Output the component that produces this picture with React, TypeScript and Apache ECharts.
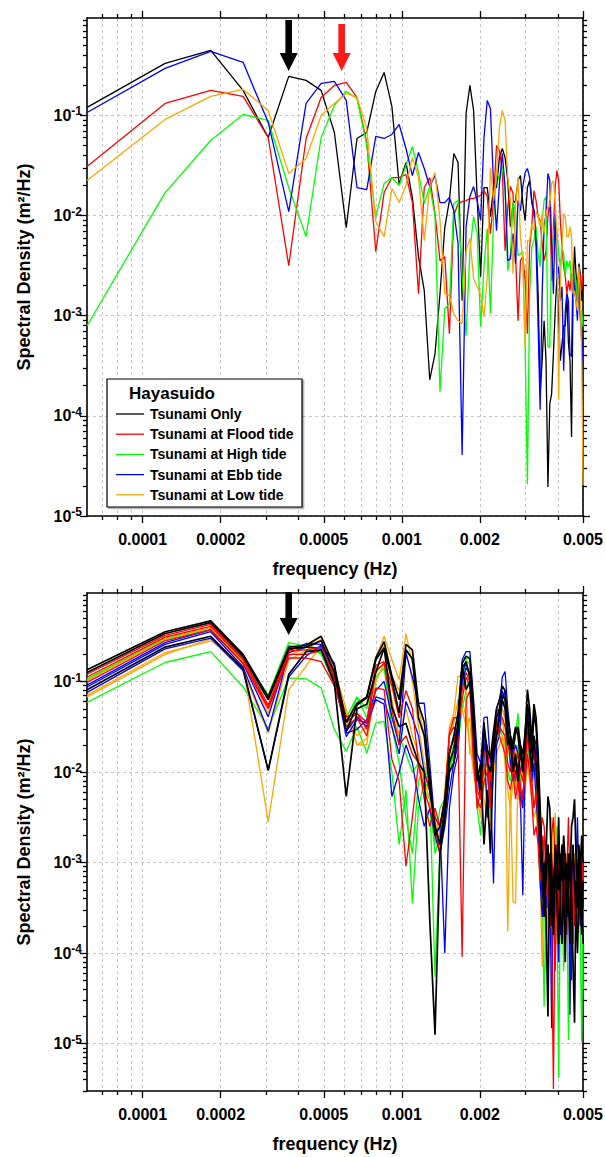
import React, { useEffect, useRef } from "react";
import * as echarts from "echarts";

// frequency grid of the spectra (Hz)
const freqHz = [
  6.104e-5, 1.221e-4, 1.831e-4, 2.441e-4, 3.052e-4, 3.662e-4, 4.272e-4, 4.883e-4, 5.493e-4, 6.104e-4,
  6.714e-4, 7.324e-4, 7.935e-4, 8.545e-4, 9.155e-4, 9.766e-4, 1.0376e-3, 1.0986e-3, 1.1597e-3, 1.2207e-3,
  1.2817e-3, 1.3428e-3, 1.4038e-3, 1.4648e-3, 1.5259e-3, 1.5869e-3, 1.6479e-3, 1.709e-3, 1.77e-3, 1.8311e-3,
  1.8921e-3, 1.9531e-3, 2.0142e-3, 2.0752e-3, 2.1362e-3, 2.1973e-3, 2.2583e-3, 2.3193e-3, 2.3804e-3, 2.4414e-3,
  2.5024e-3, 2.5635e-3, 2.6245e-3, 2.6855e-3, 2.7466e-3, 2.8076e-3, 2.8687e-3, 2.9297e-3, 2.9907e-3, 3.0518e-3,
  3.1128e-3, 3.1738e-3, 3.2349e-3, 3.2959e-3, 3.3569e-3, 3.418e-3, 3.479e-3, 3.54e-3, 3.6011e-3, 3.6621e-3,
  3.7231e-3, 3.7842e-3, 3.8452e-3, 3.9063e-3, 3.9673e-3, 4.0283e-3, 4.0894e-3, 4.1504e-3, 4.2114e-3, 4.2725e-3,
  4.3335e-3, 4.3945e-3, 4.4556e-3, 4.5166e-3, 4.5776e-3, 4.6387e-3, 4.6997e-3, 4.7607e-3, 4.8218e-3, 4.8828e-3,
  4.9438e-3, 5.0049e-3,
];

// ---- upper panel: log10 of spectral density (m^2/Hz) ----
const topOnlyLog10 = [
  -0.92, -0.48, -0.35, -0.75, -1.22, -0.61, -0.65, -0.75, -1.17, -2.12,
  -1.23, -1.17, -0.76, -0.57, -0.91, -1.69, -1.47, -1.82, -2.41, -2.75,
  -3.64, -3.38, -2.78, -2.12, -1.85, -1.38, -1.47, -2.85, -0.98, -0.7,
  -0.95, -1.82, -2.61, -1.72, -1.72, -2.01, -1.72, -1.72, -1.42, -1.33,
  -1.42, -1.65, -2.11, -1.88, -1.85, -1.65, -1.6, -1.88, -2.05, -1.72,
  -1.65, -1.85, -1.95, -2.18, -2.78, -3.78, -3.45, -3.05, -3.45, -4.71,
  -3.88, -3.78, -3.38, -2.95, -2.61, -3.05, -3.45, -3.28, -3.1, -3.1,
  -2.78, -3.28, -3.45, -4.21, -2.78, -2.31, -2.58, -2.78, -2.48, -2.58,
  -2.85, -2.61,
];
const topFloodLog10 = [
  -1.51, -0.88, -0.75, -0.81, -1.22, -2.5, -1.23, -0.82, -0.7, -0.67,
  -0.82, -1.27, -2.36, -1.77, -1.62, -1.62, -1.59, -1.87, -2.78, -1.72,
  -1.62, -1.98, -2.45, -2.41, -3.18, -2.0, -1.88, -1.86, -1.85, -1.83,
  -1.83, -1.81, -1.8, -1.75, -1.81, -2.18, -1.85, -1.3, -1.35, -1.55,
  -2.35, -1.91, -1.71, -1.78, -2.38, -3.05, -2.45, -2.41, -2.65, -3.18,
  -2.31, -2.11, -1.75, -1.85, -2.01, -2.05, -2.28, -2.45, -2.35, -2.01,
  -1.85, -2.65, -2.11, -1.71, -1.55, -1.65, -2.05, -2.31, -2.51, -2.61,
  -2.78, -2.65, -2.75, -2.58, -2.78, -2.58, -2.85, -2.65, -2.61, -2.58,
  -2.75, -2.58,
];
const topHighLog10 = [
  -3.1, -1.77, -1.25, -0.99, -1.05, -1.72, -2.21, -1.22, -0.9, -0.76,
  -0.83, -1.3, -2.01, -1.68, -1.62, -1.7, -1.5, -1.31, -1.57, -1.88,
  -1.71, -2.0, -3.76, -2.93, -2.88, -1.88, -1.85, -2.61, -3.2, -2.36,
  -2.01, -2.18, -3.11, -2.51, -2.13, -2.98, -2.05, -1.55, -1.65, -1.52,
  -1.75, -2.55, -2.38, -1.87, -1.95, -2.4, -2.38, -2.36, -3.31, -4.68,
  -2.78, -2.31, -2.25, -2.11, -2.38, -2.51, -2.05, -1.85, -1.81, -3.31,
  -3.31, -2.31, -2.21, -2.05, -2.15, -2.38, -2.51, -2.31, -2.38, -2.61,
  -2.45, -2.51, -2.45, -2.68, -2.85, -2.58, -2.65, -2.85, -2.78, -3.05,
  -2.95, -3.11,
];
const topEbbLog10 = [
  -0.97, -0.53, -0.36, -0.47, -1.07, -1.96, -0.88, -0.68, -0.66, -0.85,
  -1.72, -1.74, -1.21, -1.23, -1.19, -1.09, -1.33, -1.6, -1.37, -1.53,
  -1.71, -1.6, -1.87, -1.87, -1.82, -1.95, -2.28, -4.39, -2.11, -1.81,
  -1.71, -1.85, -2.05, -1.22, -0.85, -0.93, -1.68, -2.15, -1.68, -1.38,
  -1.71, -2.45, -2.43, -2.18, -2.48, -1.85, -1.95, -1.71, -1.57, -1.53,
  -1.62, -1.88, -1.95, -2.31, -3.11, -3.94, -2.78, -2.11, -1.98, -1.58,
  -1.65, -2.28, -2.78, -1.98, -2.61, -2.51, -2.85, -2.71, -3.55, -2.95,
  -2.78, -2.85, -3.38, -3.41, -2.51, -2.75, -2.85, -3.05, -2.51, -2.98,
  -3.25, -3.5,
];
const topLowLog10 = [
  -1.65, -1.04, -0.81, -0.74, -0.95, -1.58, -1.43, -1.0, -0.88, -0.78,
  -0.82, -1.13, -2.06, -2.21, -1.73, -1.87, -1.7, -1.42, -1.62, -2.25,
  -1.71, -1.57, -2.05, -2.78, -2.8, -2.98, -3.05, -3.08, -2.35, -2.23,
  -2.63, -2.71, -2.78, -3.01, -2.61, -1.52, -1.85, -1.58, -1.12, -0.95,
  -1.05, -1.62, -1.85, -2.58, -1.91, -1.62, -2.21, -2.45, -3.31, -2.25,
  -2.25, -2.08, -2.15, -1.96, -2.01, -2.11, -1.98, -2.18, -1.98, -1.91,
  -1.91, -1.68, -1.65, -1.88, -2.18, -3.84, -2.65, -2.31, -1.98, -2.01,
  -2.21, -2.21, -2.11, -2.21, -2.78, -2.75, -2.85, -2.95, -2.51, -2.78,
  -3.45, -4.69,
];

// ---- lower panel: log10 of spectral density (m^2/Hz), three runs per condition ----
const botOnlyA = [
  -0.87, -0.45, -0.33, -0.7, -1.17, -0.62, -0.6, -0.5, -0.83, -1.45,
  -1.24, -1.17, -0.74, -0.56, -0.94, -1.2, -0.59, -0.65, -1.25, -1.45,
  -2.05, -2.7, -2.6, -2.3, -1.8, -1.6, -1.35, -0.8, -0.72, -0.75,
  -1.3, -2.0, -2.1, -1.5, -1.75, -1.85, -1.55, -1.3, -1.2, -1.05,
  -1.1, -1.4, -1.6, -1.75, -1.55, -1.5, -1.7, -1.8, -1.6, -1.09,
  -1.3, -1.65, -1.25, -1.4, -1.8, -2.4, -2.95, -3.3, -2.9, -2.27,
  -2.4, -3.1, -3.5, -2.8, -3.0, -3.3, -2.9, -3.2, -2.7, -3.0,
  -3.4, -2.9, -3.2, -2.6, -2.5, -2.3, -2.9, -3.3, -2.8, -3.1, -2.7, -3.0,
];
const botOnlyB = [
  -0.9, -0.47, -0.35, -0.72, -1.2, -0.64, -0.62, -0.55, -0.9, -1.55,
  -1.26, -1.18, -0.76, -0.63, -0.98, -1.35, -0.65, -0.75, -1.4, -1.6,
  -2.2, -2.6, -2.8, -2.4, -1.9, -1.75, -1.45, -0.85, -0.78, -0.95,
  -1.5, -1.95, -2.2, -1.45, -1.9, -2.0, -1.7, -1.4, -1.3, -1.15,
  -1.2, -1.55, -1.75, -1.65, -1.5, -1.6, -1.85, -1.9, -1.55, -1.25,
  -1.4, -1.8, -1.35, -1.5, -1.9, -2.6, -3.1, -3.6, -3.2, -2.8,
  -3.3, -3.7, -3.2, -3.0, -3.4, -3.9, -3.1, -2.8, -3.3, -4.1,
  -3.0, -3.4, -3.9, -3.1, -2.8, -3.2, -3.6, -4.0, -3.4, -2.9, -3.3, -3.9,
];
const botOnlyC = [
  -1.09, -0.62, -0.5, -0.86, -1.98, -0.92, -0.67, -0.65, -1.02, -2.27,
  -1.3, -1.25, -0.9, -0.63, -1.28, -1.5, -1.46, -1.7, -1.9, -2.0,
  -3.63, -4.9, -2.9, -2.5, -2.0, -1.9, -1.5, -0.83, -1.09, -1.0,
  -1.6, -2.1, -1.9, -2.8, -2.2, -2.9, -1.8, -1.6, -1.4, -1.2,
  -1.3, -1.7, -1.6, -2.0, -1.8, -2.1, -1.7, -2.0, -1.7, -1.35,
  -1.7, -2.0, -1.6, -1.9, -2.3, -2.8, -3.2, -3.0, -3.6, -4.7,
  -2.9, -3.4, -3.8, -3.1, -3.3, -2.5, -3.5, -3.9, -3.2, -3.0,
  -3.6, -3.3, -2.9, -3.4, -4.1, -4.77, -3.2, -3.5, -2.9, -3.4, -3.8, -3.2,
];
const botFloodA = [
  -0.92, -0.49, -0.37, -0.74, -1.26, -0.66, -0.65, -0.62, -0.94, -1.39,
  -1.35, -1.45, -0.82, -0.78, -1.05, -1.4, -1.1, -1.3, -1.9, -2.2,
  -2.4, -2.6, -2.9, -2.3, -1.57, -1.4, -1.4, -1.1, -0.9, -1.0,
  -1.7, -2.2, -2.3, -1.8, -1.7, -2.1, -1.6, -1.3, -1.35, -1.4,
  -1.5, -1.7, -1.8, -1.7, -1.9, -1.8, -2.0, -2.1, -1.8, -1.5,
  -1.6, -2.0, -1.7, -2.0, -2.3, -2.8, -2.5, -2.6, -2.9, -3.3,
  -3.0, -2.7, -2.5, -3.0, -2.8, -3.9, -3.1, -2.9, -3.3, -3.6,
  -3.1, -2.5, -3.3, -3.0, -3.9, -3.2, -2.9, -3.1, -3.4, -3.0, -2.8, -3.2,
];
const botFloodB = [
  -0.95, -0.51, -0.39, -0.76, -1.29, -0.7, -0.7, -0.66, -0.98, -1.45,
  -1.35, -1.53, -0.88, -0.8, -1.31, -1.7, -1.6, -1.8, -1.9, -2.3,
  -2.6, -2.4, -2.6, -2.3, -1.75, -1.65, -1.5, -1.2, -0.95, -1.05,
  -1.8, -2.4, -2.2, -2.0, -1.9, -2.3, -1.7, -1.4, -1.5, -1.55,
  -1.6, -1.9, -2.0, -1.8, -2.1, -1.9, -2.2, -2.3, -2.0, -1.6,
  -1.8, -2.1, -2.4, -2.2, -2.5, -2.9, -2.7, -3.0, -3.2, -2.8,
  -3.4, -3.8, -5.5, -3.3, -3.0, -3.5, -3.2, -3.7, -3.0, -3.4,
  -3.8, -3.2, -3.0, -3.6, -3.3, -3.7, -3.1, -3.4, -3.0, -3.5, -3.2, -3.6,
];
const botFloodC = [
  -1.01, -0.55, -0.43, -0.8, -1.3, -0.74, -0.74, -0.78, -1.05, -1.5,
  -1.4, -1.6, -1.07, -1.09, -1.86, -2.1, -3.04, -2.5, -1.9, -2.0,
  -2.2, -2.5, -2.6, -2.3, -1.6, -1.5, -1.6, -4.04, -1.2, -1.1,
  -1.9, -2.3, -2.4, -2.1, -2.0, -2.4, -1.8, -1.45, -1.6, -1.7,
  -1.8, -2.1, -2.2, -2.0, -2.3, -2.1, -2.4, -2.2, -2.1, -1.8,
  -2.0, -2.3, -2.7, -2.6, -2.8, -3.2, -3.0, -2.7, -3.1, -3.5,
  -3.1, -2.9, -3.3, -4.2, -3.2, -3.0, -3.5, -3.2, -2.9, -3.3,
  -3.5, -3.0, -3.4, -3.2, -3.6, -3.0, -3.3, -3.7, -3.1, -3.4, -3.0, -3.3,
];
const botHighA = [
  -0.97, -0.52, -0.41, -0.74, -1.15, -0.57, -0.61, -0.7, -1.0, -1.5,
  -1.17, -1.3, -0.9, -0.8, -1.4, -1.6, -1.8, -2.0, -1.9, -2.2,
  -2.3, -2.9, -2.7, -2.4, -1.9, -1.7, -1.5, -1.0, -0.75, -0.72,
  -1.4, -2.1, -2.0, -1.9, -2.3, -2.0, -1.7, -1.5, -1.4, -1.3,
  -1.4, -1.7, -1.9, -1.8, -1.6, -1.35, -1.8, -2.0, -1.7, -1.4,
  -1.6, -1.9, -1.7, -1.8, -2.0, -2.6, -2.9, -3.3, -3.6, -3.0,
  -3.2, -3.5, -3.0, -3.4, -3.7, -3.2, -3.0, -3.4, -4.2, -3.2,
  -3.0, -3.5, -3.3, -3.0, -3.6, -3.2, -3.4, -3.0, -3.5, -3.2, -3.0, -3.4,
];
const botHighB = [
  -1.23, -0.79, -0.67, -1.06, -1.52, -0.96, -0.97, -1.07, -1.53, -1.77,
  -1.5, -1.79, -1.46, -1.44, -2.0, -2.8, -2.2, -3.45, -2.4, -2.1,
  -2.2, -4.26, -2.8, -2.6, -2.0, -1.8, -1.7, -1.3, -1.1, -0.85,
  -1.7, -2.4, -2.7, -2.1, -2.0, -2.5, -2.0, -1.7, -1.5, -1.6,
  -1.7, -2.0, -2.1, -1.9, -2.2, -1.7, -2.1, -2.3, -2.0, -1.7,
  -1.9, -2.2, -2.0, -2.1, -2.4, -3.0, -3.3, -4.59, -3.4, -3.0,
  -3.5, -3.2, -3.6, -4.0, -3.3, -5.38, -3.4, -3.2, -3.7, -3.4,
  -3.3, -4.96, -3.6, -3.2, -3.8, -3.4, -3.0, -3.6, -3.3, -3.8, -4.98, -3.5,
];
const botHighC = [
  -0.98, -0.54, -0.42, -0.78, -1.2, -0.6, -0.65, -0.68, -1.05, -1.4,
  -1.17, -1.4, -0.95, -0.85, -1.5, -1.9, -2.5, -2.9, -2.1, -1.95,
  -2.1, -2.8, -2.4, -2.3, -1.95, -1.8, -1.6, -1.0, -0.78, -0.8,
  -1.5, -2.0, -2.2, -1.7, -1.8, -2.2, -1.9, -1.6, -1.5, -1.45,
  -1.5, -1.8, -1.7, -1.7, -1.8, -2.0, -1.9, -1.8, -2.2, -1.6,
  -1.8, -2.0, -1.9, -2.1, -2.2, -2.7, -3.0, -3.2, -4.2, -3.4,
  -3.0, -3.3, -3.1, -3.5, -2.6, -3.4, -3.7, -3.1, -3.3, -3.6,
  -3.2, -3.4, -3.1, -3.7, -3.3, -3.0, -3.5, -3.2, -3.6, -3.3, -3.1, -4.4,
];
const botEbbA = [
  -1.04, -0.57, -0.43, -0.8, -1.39, -0.66, -0.58, -0.59, -0.8, -1.57,
  -1.53, -1.42, -1.1, -1.0, -1.39, -1.7, -0.69, -0.95, -1.24, -1.24,
  -1.9, -2.6, -2.8, -2.5, -2.0, -1.9, -1.6, -0.76, -0.67, -0.67,
  -1.2, -1.8, -1.9, -1.4, -1.39, -1.9, -1.7, -1.6, -1.3, -0.95,
  -0.89, -1.3, -1.6, -1.8, -1.7, -1.8, -2.0, -1.9, -1.7, -1.25,
  -1.5, -1.8, -1.6, -1.7, -2.0, -2.6, -3.0, -3.3, -2.8, -3.1,
  -3.4, -3.0, -3.3, -2.9, -3.2, -4.1, -3.0, -3.3, -3.1, -2.9,
  -3.4, -3.0, -4.68, -3.2, -3.0, -3.4, -3.1, -2.5, -3.3, -3.0, -3.5, -3.1,
];
const botEbbB = [
  -1.06, -0.59, -0.45, -0.84, -1.55, -0.68, -0.62, -0.63, -0.95, -1.61,
  -1.42, -1.46, -1.17, -1.2, -1.5, -1.8, -1.22, -1.4, -1.6, -2.0,
  -2.2, -2.5, -2.6, -4.0, -2.4, -2.0, -1.8, -0.9, -0.8, -0.95,
  -1.6, -2.0, -2.1, -1.6, -2.5, -2.1, -3.23, -1.7, -1.6, -1.2,
  -1.1, -1.6, -1.7, -2.0, -1.9, -2.1, -2.3, -3.36, -1.9, -1.4,
  -1.7, -1.9, -1.8, -2.0, -2.3, -3.0, -3.4, -3.1, -3.5, -3.2,
  -3.0, -4.83, -3.3, -3.6, -3.1, -3.4, -3.8, -3.2, -3.5, -3.0,
  -3.3, -3.6, -3.1, -3.4, -3.7, -3.3, -3.0, -3.5, -3.2, -3.6, -3.3, -3.0,
];
const botEbbC = [
  -1.12, -0.64, -0.52, -0.88, -1.98, -0.95, -0.72, -0.6, -0.9, -1.55,
  -1.39, -1.5, -1.2, -1.25, -2.27, -2.0, -1.7, -1.9, -2.3, -2.6,
  -2.4, -2.7, -2.9, -2.6, -2.2, -1.9, -1.7, -1.0, -0.85, -0.9,
  -1.4, -2.0, -2.3, -1.7, -1.8, -2.4, -1.9, -1.6, -1.4, -1.1,
  -1.2, -1.5, -1.9, -2.1, -2.0, -1.9, -2.2, -2.4, -1.8, -1.5,
  -1.8, -2.1, -1.9, -2.3, -2.6, -3.2, -3.6, -3.3, -3.0, -3.4,
  -3.7, -3.2, -3.5, -3.1, -3.4, -3.8, -3.3, -3.0, -3.6, -3.2,
  -3.5, -3.2, -3.4, -4.3, -3.1, -3.4, -3.6, -3.2, -3.4, -3.7, -3.1, -3.5,
];
const botLowA = [
  -0.99, -0.53, -0.41, -0.77, -1.35, -0.72, -0.62, -0.5, -0.87, -1.31,
  -1.7, -1.63, -0.74, -0.5, -0.76, -0.98, -0.47, -0.8, -1.28, -1.6,
  -2.0, -2.7, -2.9, -2.3, -1.5, -1.35, -0.94, -0.95, -1.1, -1.8,
  -1.8, -2.1, -2.3, -1.9, -2.0, -2.2, -1.7, -1.5, -1.4, -1.3,
  -1.4, -1.6, -2.0, -1.8, -1.7, -1.9, -1.9, -1.8, -2.0, -1.6,
  -1.7, -2.2, -1.9, -1.8, -2.1, -2.7, -3.2, -3.0, -3.4, -3.1,
  -3.3, -2.5, -3.2, -4.0, -3.0, -3.2, -3.6, -3.0, -3.4, -3.1,
  -2.9, -3.3, -3.0, -3.5, -3.2, -2.9, -3.3, -3.0, -3.6, -3.1, -3.3, -2.9,
];
const botLowB = [
  -1.17, -0.7, -0.53, -0.88, -1.57, -0.76, -0.66, -0.53, -0.95, -1.35,
  -1.6, -1.5, -0.76, -0.6, -0.94, -1.1, -0.65, -1.0, -1.5, -1.9,
  -2.1, -2.53, -2.8, -2.2, -1.6, -1.45, -1.2, -1.2, -1.4, -1.7,
  -2.0, -2.2, -2.0, -2.3, -2.5, -2.6, -1.9, -1.6, -1.5, -1.4,
  -1.7, -3.76, -2.2, -3.43, -3.45, -2.0, -2.1, -2.3, -2.2, -1.8,
  -1.9, -2.1, -2.4, -2.3, -2.6, -3.1, -4.15, -3.2, -2.9, -3.3,
  -3.0, -3.4, -3.1, -2.45, -3.2, -3.5, -3.0, -3.3, -2.9, -3.2,
  -3.4, -3.0, -3.2, -3.6, -3.1, -3.3, -2.9, -3.3, -3.1, -3.5, -3.0, -3.2,
];
const botLowC = [
  -1.15, -0.68, -0.55, -0.82, -2.55, -1.09, -0.83, -0.6, -1.05, -1.37,
  -1.7, -1.7, -1.0, -0.8, -1.2, -1.6, -1.3, -1.6, -1.8, -2.1,
  -2.3, -2.7, -2.9, -2.4, -1.8, -1.6, -1.5, -1.3, -1.5, -1.4,
  -2.0, -2.3, -2.5, -2.1, -2.2, -2.4, -2.0, -1.8, -1.7, -1.6,
  -1.9, -2.2, -2.4, -2.1, -2.0, -2.3, -2.2, -2.0, -2.1, -1.9,
  -2.1, -2.3, -2.5, -2.4, -2.8, -3.3, -3.0, -3.5, -3.2, -4.3,
  -3.2, -3.5, -3.0, -3.3, -3.6, -3.1, -3.4, -3.0, -3.5, -3.2,
  -3.4, -3.1, -3.6, -3.2, -3.0, -3.4, -3.2, -3.5, -3.0, -3.3, -3.6, -3.1,
];

const legendTitle = "Hayasuido";
const legendNames = [
  "Tsunami Only",
  "Tsunami at Flood tide",
  "Tsunami at High tide",
  "Tsunami at Ebb tide",
  "Tsunami at Low tide",
];
const conditionColors = ["#000000", "#ff0000", "#00ff00", "#0000ff", "#ffa500"];

const xMajorTicks = [1e-4, 2e-4, 5e-4, 1e-3, 2e-3, 5e-3];
const xMinorTicks = [7e-5, 8e-5, 9e-5, 3e-4, 4e-4, 6e-4, 7e-4, 8e-4, 9e-4, 3e-3, 4e-3];
const yMajorTicks = [1e-5, 1e-4, 1e-3, 1e-2, 1e-1];

const arrowOnlyFreq = 3.66e-4;
const arrowFloodFreq = 5.86e-4;

const X_MIN = 6.1e-5;
const X_MAX = 5e-3;
const TOP_Y = [1e-5, 0.94];
const BOT_Y = [3e-6, 0.95];

const FONT = "'Liberation Sans', Arial, Helvetica, sans-serif";

function yMinorTicks(minV: number, maxV: number) {
  const out: number[] = [];
  for (let e = -6; e <= -1; e++) {
    for (let m = 2; m <= 9; m++) {
      const v = Number((m * Math.pow(10, e)).toPrecision(3));
      if (v >= minV * 0.999 && v <= maxV) out.push(v);
    }
  }
  return out;
}

const tickLine = { color: "#000", width: 1.3 };
const borderLine = { color: "#000", width: 1.6 };
const gridLine = { color: "#c6c6c6", width: 1, type: [3, 3] };

function fmtX(v: number) {
  return String(Number(v.toPrecision(2)));
}
function fmtY(v: number) {
  const e = Math.round(Math.log10(v));
  return "{b|10}{s|" + e + "}";
}

function xAxesFor(g: number) {
  const common: any = { type: "log", logBase: 10, gridIndex: g, min: X_MIN, max: X_MAX };
  return [
    {
      ...common,
      position: "bottom",
      axisLine: { show: true, onZero: false, lineStyle: borderLine },
      axisTick: { show: true, inside: false, length: 7, interval: 0, customValues: xMajorTicks, lineStyle: tickLine },
      axisLabel: {
        show: true, interval: 0, customValues: xMajorTicks, margin: 15, formatter: fmtX,
        color: "#000", fontFamily: FONT, fontSize: 16, fontWeight: "bold", hideOverlap: false,
      },
      splitLine: { show: true, interval: 0, lineStyle: gridLine },
      minorTick: { show: false },
      minorSplitLine: { show: false },
      name: "frequency (Hz)",
      nameLocation: "middle",
      nameGap: 44,
      nameTextStyle: { color: "#000", fontFamily: FONT, fontSize: 18, fontWeight: "bold" },
    },
    {
      ...common,
      position: "bottom",
      axisLine: { show: false },
      axisTick: { show: true, inside: false, length: 4, interval: 0, customValues: xMinorTicks, lineStyle: tickLine },
      axisLabel: { show: false },
      splitLine: { show: true, interval: 0, lineStyle: gridLine },
    },
    {
      ...common,
      position: "top",
      axisLine: { show: true, onZero: false, lineStyle: borderLine },
      axisTick: { show: true, inside: false, length: 7, interval: 0, customValues: xMajorTicks, lineStyle: tickLine },
      axisLabel: { show: false },
      splitLine: { show: false },
    },
    {
      ...common,
      position: "top",
      axisLine: { show: false },
      axisTick: { show: true, inside: false, length: 4, interval: 0, customValues: xMinorTicks, lineStyle: tickLine },
      axisLabel: { show: false },
      splitLine: { show: false },
    },
  ];
}

function yAxesFor(g: number, range: number[]) {
  const common: any = { type: "log", logBase: 10, gridIndex: g, min: range[0], max: range[1] };
  const minors = yMinorTicks(range[0], range[1]);
  return [
    {
      ...common,
      position: "left",
      axisLine: { show: true, onZero: false, lineStyle: borderLine },
      axisTick: { show: true, inside: false, length: 7, interval: 0, customValues: yMajorTicks, lineStyle: tickLine },
      axisLabel: {
        show: true, interval: 0, customValues: yMajorTicks, margin: 5, formatter: fmtY, hideOverlap: false,
        rich: {
          b: { color: "#000", fontFamily: FONT, fontSize: 16, fontWeight: "bold", lineHeight: 20 },
          s: { color: "#000", fontFamily: FONT, fontSize: 12, fontWeight: "bold", lineHeight: 10, verticalAlign: "top" },
        },
      },
      splitLine: { show: true, interval: 0, lineStyle: gridLine },
      minorTick: { show: false },
      name: "Spectral Density (m\u00b2/Hz)",
      nameLocation: "middle",
      nameGap: 54,
      nameTextStyle: { color: "#000", fontFamily: FONT, fontSize: 18, fontWeight: "bold" },
    },
    {
      ...common,
      position: "left",
      axisLine: { show: false },
      axisTick: { show: true, inside: false, length: 4, interval: 0, customValues: minors, lineStyle: tickLine },
      axisLabel: { show: false },
      splitLine: { show: false },
    },
    {
      ...common,
      position: "right",
      axisLine: { show: true, onZero: false, lineStyle: borderLine },
      axisTick: { show: true, inside: false, length: 7, interval: 0, customValues: yMajorTicks, lineStyle: tickLine },
      axisLabel: { show: false },
      splitLine: { show: false },
    },
    {
      ...common,
      position: "right",
      axisLine: { show: false },
      axisTick: { show: true, inside: false, length: 4, interval: 0, customValues: minors, lineStyle: tickLine },
      axisLabel: { show: false },
      splitLine: { show: false },
    },
  ];
}

function lineSeries(name: string, logs: number[], color: string, axisIdx: number, width: number) {
  return {
    type: "line",
    name,
    xAxisIndex: axisIdx,
    yAxisIndex: axisIdx,
    data: freqHz.map((f, i) => [f, Math.pow(10, logs[i])]),
    showSymbol: false,
    symbol: "none",
    silent: true,
    clip: true,
    lineStyle: { color, width },
    itemStyle: { color },
    z: 3,
  };
}

function arrowPoints(cx: number, yTop: number, yHead: number, yTip: number) {
  const sw = 3.3;
  const hw = 9;
  return [
    [cx - sw, yTop], [cx + sw, yTop], [cx + sw, yHead], [cx + hw, yHead],
    [cx, yTip], [cx - hw, yHead], [cx - sw, yHead],
  ];
}

export default function App() {
  const ref = useRef<HTMLDivElement>(null);

  useEffect(() => {
    document.body.style.margin = "0";
    if (!ref.current) return;
    const chart = echarts.init(ref.current, undefined, { renderer: "svg" });

    const topSeries = [
      lineSeries(legendNames[0], topOnlyLog10, conditionColors[0], 0, 1.3),
      lineSeries(legendNames[1], topFloodLog10, conditionColors[1], 0, 1.3),
      lineSeries(legendNames[2], topHighLog10, conditionColors[2], 0, 1.3),
      lineSeries(legendNames[3], topEbbLog10, conditionColors[3], 0, 1.3),
      lineSeries(legendNames[4], topLowLog10, conditionColors[4], 0, 1.3),
    ];
    const botSeries = [
      lineSeries(legendNames[2], botHighA, conditionColors[2], 4, 1.3),
      lineSeries(legendNames[2], botHighB, conditionColors[2], 4, 1.3),
      lineSeries(legendNames[2], botHighC, conditionColors[2], 4, 1.3),
      lineSeries(legendNames[4], botLowA, conditionColors[4], 4, 1.3),
      lineSeries(legendNames[4], botLowB, conditionColors[4], 4, 1.3),
      lineSeries(legendNames[4], botLowC, conditionColors[4], 4, 1.3),
      lineSeries(legendNames[3], botEbbA, conditionColors[3], 4, 1.3),
      lineSeries(legendNames[3], botEbbB, conditionColors[3], 4, 1.3),
      lineSeries(legendNames[3], botEbbC, conditionColors[3], 4, 1.3),
      lineSeries(legendNames[1], botFloodA, conditionColors[1], 4, 1.3),
      lineSeries(legendNames[1], botFloodB, conditionColors[1], 4, 1.3),
      lineSeries(legendNames[1], botFloodC, conditionColors[1], 4, 1.3),
      lineSeries(legendNames[0], botOnlyA, conditionColors[0], 4, 1.7),
      lineSeries(legendNames[0], botOnlyB, conditionColors[0], 4, 1.7),
      lineSeries(legendNames[0], botOnlyC, conditionColors[0], 4, 1.7),
    ];

    const option: any = {
      animation: false,
      backgroundColor: "#ffffff",
      grid: [
        { left: 87, top: 18, width: 498, height: 498, show: false },
        { left: 87, top: 593, width: 498, height: 498, show: false },
      ],
      xAxis: [...xAxesFor(0), ...xAxesFor(1)],
      yAxis: [...yAxesFor(0, TOP_Y), ...yAxesFor(1, BOT_Y)],
      series: [...topSeries, ...botSeries],
    };
    chart.setOption(option);

    // annotations (legend box + arrows) placed relative to the axes
    const ax0 = chart.convertToPixel({ xAxisIndex: 0 }, arrowOnlyFreq) as number;
    const ax1 = chart.convertToPixel({ xAxisIndex: 0 }, arrowFloodFreq) as number;
    const ax2 = chart.convertToPixel({ xAxisIndex: 4 }, arrowOnlyFreq) as number;

    const legendChildren: any[] = [
      {
        type: "rect",
        shape: { x: 107, y: 379, width: 195, height: 128 },
        style: { fill: "#fff", stroke: "#000", lineWidth: 1.2, shadowColor: "rgba(0,0,0,0.35)", shadowOffsetX: 1.5, shadowOffsetY: 1.5 },
      },
      {
        type: "text",
        style: { x: 129, y: 393, text: legendTitle, fill: "#000", font: "bold 17px " + FONT, verticalAlign: "middle", textAlign: "left" },
      },
    ];
    legendNames.forEach((nm, i) => {
      const y = 414 + i * 20.2;
      legendChildren.push({
        type: "line",
        shape: { x1: 116, y1: y, x2: 144, y2: y },
        style: { stroke: conditionColors[i], lineWidth: 1.3 },
      });
      legendChildren.push({
        type: "text",
        style: { x: 150, y, text: nm, fill: "#000", font: "bold 14px " + FONT, verticalAlign: "middle", textAlign: "left" },
      });
    });

    chart.setOption({
      graphic: [
        { type: "group", z: 100, children: legendChildren },
        { type: "polygon", z: 100, shape: { points: arrowPoints(ax0, 20, 53, 71) }, style: { fill: "#000" } },
        { type: "polygon", z: 100, shape: { points: arrowPoints(ax1, 24, 53, 71) }, style: { fill: "#ff1a1a" } },
        { type: "polygon", z: 100, shape: { points: arrowPoints(ax2, 592, 618, 635) }, style: { fill: "#000" } },
      ],
    });

    return () => {
      chart.dispose();
    };
  }, []);

  return <div ref={ref} style={{ width: 606, height: 1157 }} />;
}
